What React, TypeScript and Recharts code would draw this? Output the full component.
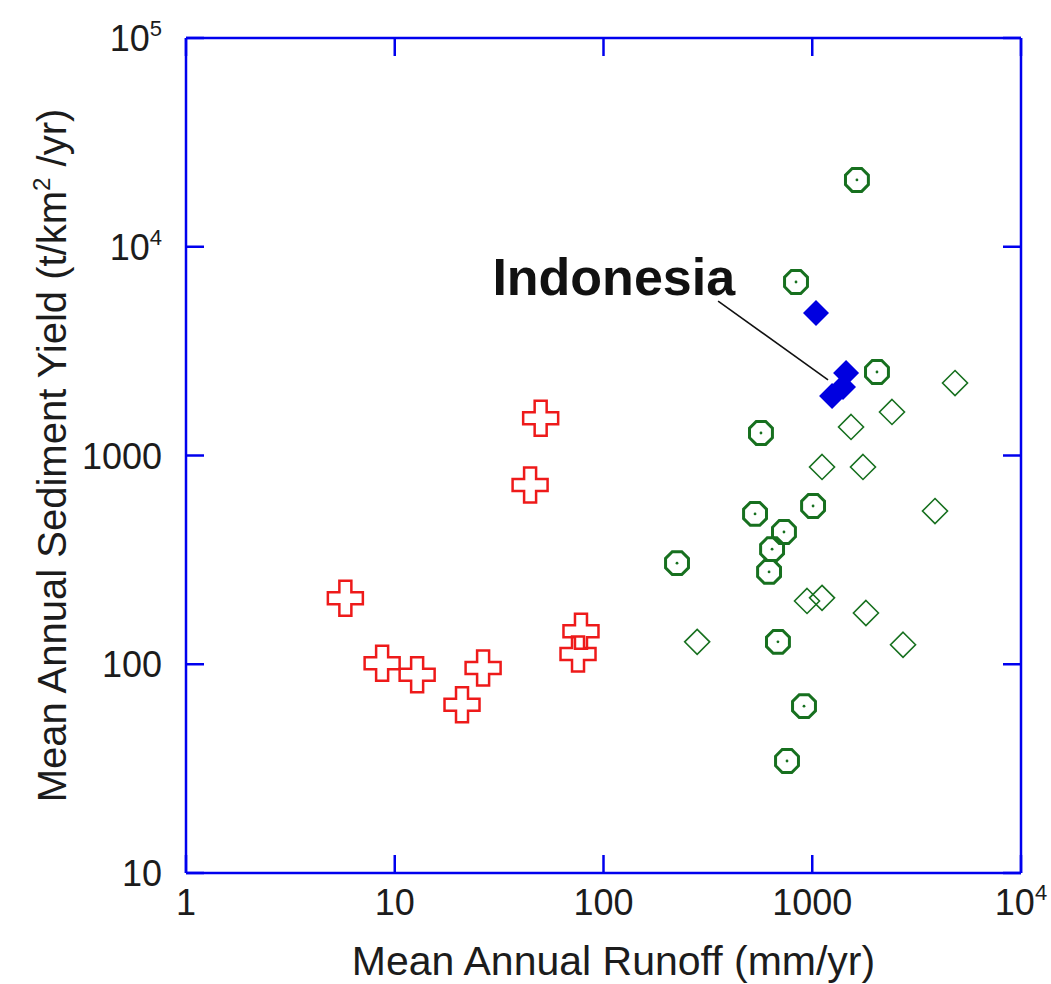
import React from 'react'
import {
    ScatterChart,
    Scatter,
    XAxis,
    YAxis,
    ReferenceLine,
    ReferenceDot
} from 'recharts'

// runoff (mm/yr) and sediment yield (t/km2/yr)
const aridRunoff = [5.8, 8.7, 12.8, 21, 26.5, 44.5, 50, 78, 75.5]
const aridYield = [207, 101, 89, 64, 96, 722, 1510, 144, 112]

const wetRunoff = [1637, 836, 2042, 568, 532, 1009, 732, 642, 621, 225, 685, 913, 757]
const wetYield = [20900, 6780, 2512, 1282, 525, 573, 430, 356, 277, 305, 128, 63, 34.4]

const otherRunoff = [4830, 2410, 1534, 1114, 1750, 3873, 944, 1114, 1808, 281, 2722]
const otherYield = [2224, 1616, 1370, 881, 881, 542, 201, 208, 176, 128, 124]

const indonesiaRunoff = [1042, 1452, 1404, 1244]
const indonesiaYield = [4816, 2485, 2128, 1928]

const runoffTicks = [1, 10, 100, 1000, 10000]
const yieldTicks = [10, 100, 1000, 10000, 100000]

// annotation anchor (end of text) and leader line ends, in data units
const labelAt = { x: 427, y: 5875 }
const leaderFrom = { x: 354, y: 5495 }
const leaderTo = { x: 1190, y: 2301 }

const font = '"Liberation Sans", Arial, Helvetica, sans-serif'
const blue = '#0000ee'
const green = '#17701f'
const red = '#ee1a1a'
const ink = '#1c1c1c'

const toPoints = (xs: number[], ys: number[]) => xs.map((x, i) => ({ x, y: ys[i] }))

function TickLabel({ x, y, value, anchor }: { x: number, y: number, value: number, anchor: string }) {
    const exp = Math.round(Math.log10(value))
    return (
        <text x={x} y={y} textAnchor={anchor as any} fontSize={36} fill={ink} fontFamily={font}>
            {exp >= 4
                ? <>10<tspan dy={-15} fontSize={22}>{exp}</tspan></>
                : String(value)}
        </text>
    )
}

function BottomTick({ x, y, payload }: any) {
    return (
        <g>
            <line x1={x} y1={y} x2={x} y2={y - 18} stroke={blue} strokeWidth={2.5} />
            <TickLabel x={x} y={y + 42} value={payload.value} anchor="middle" />
        </g>
    )
}

function LeftTick({ x, y, payload }: any) {
    return (
        <g>
            <line x1={x} y1={y} x2={x + 18} y2={y} stroke={blue} strokeWidth={2.5} />
            <TickLabel x={x - 24} y={y + 13} value={payload.value} anchor="end" />
        </g>
    )
}

function TopTick({ x, y }: any) {
    return <line x1={x} y1={y} x2={x} y2={y + 18} stroke={blue} strokeWidth={2.5} />
}

function RightTick({ x, y }: any) {
    return <line x1={x} y1={y} x2={x - 18} y2={y} stroke={blue} strokeWidth={2.5} />
}

function XTitle({ viewBox }: any) {
    return (
        <text x={viewBox.x + viewBox.width / 2 + 10} y={viewBox.y + 102}
            textAnchor="middle" fontSize={41} fill={ink} fontFamily={font}>
            Mean Annual Runoff (mm/yr)
        </text>
    )
}

function YTitle({ viewBox }: any) {
    const cx = viewBox.x + 66
    const cy = viewBox.y + viewBox.height / 2
    return (
        <text x={cx} y={cy} transform={`rotate(-90 ${cx} ${cy})`}
            textAnchor="middle" fontSize={40} fill={ink} fontFamily={font}>
            Mean Annual Sediment Yield (t/km<tspan dy={-16} fontSize={24}>2</tspan><tspan dy={16}> /yr)</tspan>
        </text>
    )
}

function Cross({ cx, cy }: any) {
    const s = 17.5
    const w = 6
    const d = `M${-w},${-s}H${w}V${-w}H${s}V${w}H${w}V${s}H${-w}V${w}H${-s}V${-w}H${-w}Z`
    return <path d={d} transform={`translate(${cx},${cy})`} fill="none" stroke={red} strokeWidth={2.5} />
}

function Octagon({ cx, cy }: any) {
    const r = 12.4
    const pts = Array.from({ length: 8 }, (_, k) => {
        const a = (Math.PI / 8) + k * Math.PI / 4
        return `${cx + r * Math.cos(a)},${cy + r * Math.sin(a)}`
    }).join(' ')
    return (
        <g>
            <polygon points={pts} fill="none" stroke={green} strokeWidth={3} />
            <circle cx={cx} cy={cy} r={1.4} fill={green} />
        </g>
    )
}

function OpenDiamond({ cx, cy }: any) {
    const r = 12.5
    return <polygon points={`${cx},${cy - r} ${cx + r},${cy} ${cx},${cy + r} ${cx - r},${cy}`}
        fill="none" stroke={green} strokeWidth={1.6} />
}

function FilledDiamond({ cx, cy }: any) {
    const r = 13
    return <polygon points={`${cx},${cy - r} ${cx + r},${cy} ${cx},${cy + r} ${cx - r},${cy}`}
        fill="#0000e0" />
}

function Nothing() {
    return <g />
}

function IndonesiaLabel({ cx, cy }: any) {
    return (
        <text x={cx} y={cy} textAnchor="end" fontSize={52} fontWeight="bold" fill="#111" fontFamily={font}>
            Indonesia
        </text>
    )
}

export default function App() {
    const axisLine = { stroke: blue, strokeWidth: 2.5 }
    return (
        <div style={{ position: 'absolute', left: 0, top: 0, background: '#fff' }}>
            <ScatterChart width={1051} height={984} margin={{ top: 37, right: 29, bottom: 0, left: 0 }}>
                <XAxis
                    type="number"
                    dataKey="x"
                    scale="log"
                    domain={[1, 10000]}
                    ticks={runoffTicks}
                    allowDataOverflow
                    height={111}
                    axisLine={axisLine}
                    tickLine={false}
                    tickSize={0}
                    tickMargin={0}
                    tick={<BottomTick />}
                    label={<XTitle />}
                />
                <XAxis
                    xAxisId="top"
                    orientation="top"
                    type="number"
                    dataKey="x"
                    scale="log"
                    domain={[1, 10000]}
                    ticks={runoffTicks}
                    allowDataOverflow
                    height={1}
                    axisLine={axisLine}
                    tickLine={false}
                    tickSize={0}
                    tickMargin={0}
                    tick={<TopTick />}
                />
                <YAxis
                    type="number"
                    dataKey="y"
                    scale="log"
                    domain={[10, 100000]}
                    ticks={yieldTicks}
                    allowDataOverflow
                    width={186}
                    axisLine={axisLine}
                    tickLine={false}
                    tickSize={0}
                    tickMargin={0}
                    tick={<LeftTick />}
                    label={<YTitle />}
                />
                <YAxis
                    yAxisId="right"
                    orientation="right"
                    type="number"
                    dataKey="y"
                    scale="log"
                    domain={[10, 100000]}
                    ticks={yieldTicks}
                    allowDataOverflow
                    width={1}
                    axisLine={axisLine}
                    tickLine={false}
                    tickSize={0}
                    tickMargin={0}
                    tick={<RightTick />}
                />
                {/* invisible series so the mirrored top/right axes get a scale */}
                <Scatter
                    xAxisId="top"
                    yAxisId="right"
                    data={toPoints(indonesiaRunoff, indonesiaYield)}
                    shape={<Nothing />}
                    isAnimationActive={false}
                />
                <Scatter data={toPoints(aridRunoff, aridYield)} shape={<Cross />} isAnimationActive={false} />
                <Scatter data={toPoints(wetRunoff, wetYield)} shape={<Octagon />} isAnimationActive={false} />
                <Scatter data={toPoints(otherRunoff, otherYield)} shape={<OpenDiamond />} isAnimationActive={false} />
                <Scatter data={toPoints(indonesiaRunoff, indonesiaYield)} shape={<FilledDiamond />} isAnimationActive={false} />
                <ReferenceLine
                    segment={[leaderFrom, leaderTo]}
                    stroke="#111"
                    strokeWidth={1.6}
                />
                <ReferenceDot
                    x={labelAt.x}
                    y={labelAt.y}
                    r={0}
                    shape={<IndonesiaLabel />}
                />
            </ScatterChart>
        </div>
    )
}
